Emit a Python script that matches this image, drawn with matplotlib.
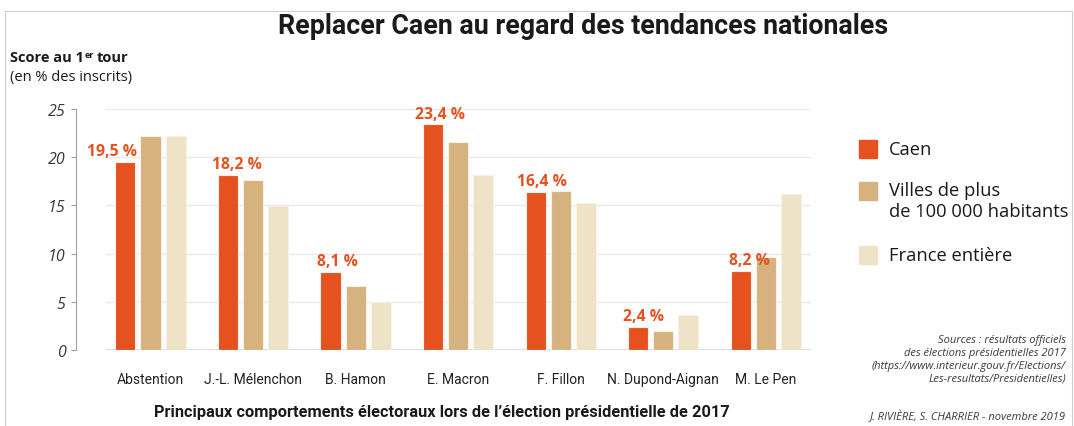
import numpy as np
import matplotlib
matplotlib.use("Agg")
from matplotlib import pyplot as plt
from matplotlib.lines import Line2D
from matplotlib.patches import Rectangle

categories = ["Abstention", "J.-L. Mélenchon", "B. Hamon", "E. Macron",
              "F. Fillon", "N. Dupond-Aignan", "M. Le Pen"]
caen = [19.5, 18.2, 8.1, 23.4, 16.4, 2.4, 8.2]
villes = [22.2, 17.6, 6.6, 21.6, 16.5, 2.0, 9.6]
france = [22.2, 14.9, 5.0, 18.2, 15.3, 3.6, 16.2]
caen_labels = ["19,5 %", "18,2 %", "8,1 %", "23,4 %", "16,4 %", "2,4 %", "8,2 %"]
series_names = ["Caen", "Villes de plus\nde 100 000 habitants", "France entière"]
yticks = [0, 5, 10, 15, 20, 25]

c_caen = "#E5521F"
c_villes = "#D5B27E"
c_france = "#EEE3C6"
colors = [c_caen, c_villes, c_france]

narrow = ["Roboto", "DejaVu Sans"]
sans = ["Open Sans", "DejaVu Sans"]

W, H = 1074, 427
fig = plt.figure(figsize=(W / 100, H / 100), dpi=100)

# axes placed in pixel terms of the reference
ax_l, ax_r, ax_top, ax_bot = 106, 811, 110, 351
ax = fig.add_axes([ax_l / W, 1 - ax_bot / H, (ax_r - ax_l) / W, (ax_bot - ax_top) / H])

x = np.arange(len(categories))
bw = 0.196
step = 0.245
for i, (vals, col) in enumerate(zip([caen, villes, france], colors)):
    ax.bar(x + (i - 1) * step, vals, width=bw, color=col,
           edgecolor="#FBEFE6", linewidth=0.8, zorder=3)

# value labels over the Caen bars (horizontal nudge in pixels, as in the original)
label_dx = [-13, 9, 7, 6.5, 6, 5, 9]
for xi, v, lab, dx in zip(x, caen, caen_labels, label_dx):
    ax.annotate(lab, xy=(xi - step, v), xytext=(dx * 0.72, 4.8), textcoords="offset points",
                ha="center", va="baseline", color=c_caen, fontsize=11.3,
                fontweight="bold", family=sans)

ax.set_xlim(-0.434, 6.44)
ax.set_ylim(0, 25)

for gy in yticks[1:]:
    ax.axhline(gy, color="#E9E9E9", linewidth=1, zorder=1)
ax.axhline(0, color="#DDDDDD", linewidth=2.2, zorder=2)

for s in ["top", "right", "bottom"]:
    ax.spines[s].set_visible(False)
ax.spines["left"].set_position(("outward", 21.6))
ax.spines["left"].set_bounds(0, 25)
ax.spines["left"].set_color("#A0A0A0")
ax.spines["left"].set_linewidth(0.8)
ax.set_yticks(yticks)
ax.set_yticklabels([str(t) for t in yticks], fontstyle="italic", family=sans,
                   fontsize=11.5, color="#3A3A3A")
ax.tick_params(axis="y", direction="out", length=3.6, width=0.8, color="#A0A0A0", pad=4)
ax.set_xticks(x)
ax.set_xticklabels(categories, family=narrow, fontsize=10, color="#222222")
ax.tick_params(axis="x", length=0, pad=16)

# frame lines
fig.add_artist(Line2D([4.5 / W, 4.5 / W], [0, 1 - 12 / H], color="#CFCFCF", lw=0.8))
fig.add_artist(Line2D([4.5 / W, 1071.5 / W], [1 - 12 / H, 1 - 12 / H], color="#CFCFCF", lw=0.8))
fig.add_artist(Line2D([1071.5 / W, 1071.5 / W], [0, 1 - 12 / H], color="#CFCFCF", lw=0.8))

fig.text(583 / W, 1 - 26 / H, "Replacer Caen au regard des tendances nationales",
         ha="center", va="center", fontsize=19.3, fontweight="bold", family=narrow,
         color="#1A1A1A")

# "Score au 1er tour" with superscript, placed piece by piece
renderer = fig.canvas.get_renderer()
t1 = fig.text(10 / W, 1 - 62 / H, "Score au 1", ha="left", va="baseline",
              fontsize=10.5, fontweight="bold", family=sans, color="#1A1A1A")
bb1 = t1.get_window_extent(renderer)
t2 = fig.text((bb1.x1 + 1) / W, 1 - 57.5 / H, "er", ha="left", va="baseline",
              fontsize=6.5, fontweight="bold", family=sans, color="#1A1A1A")
bb2 = t2.get_window_extent(renderer)
fig.text((bb2.x1 + 2) / W, 1 - 62 / H, "tour", ha="left", va="baseline",
         fontsize=10.5, fontweight="bold", family=sans, color="#1A1A1A")
fig.text(10 / W, 1 - 81 / H, "(en % des inscrits)", ha="left", va="baseline",
         fontsize=10.5, family=sans, color="#1A1A1A")

# legend
leg_y = [150, 191.5, 256]
for name, col, ly in zip(series_names, colors, leg_y):
    fig.add_artist(Rectangle((859 / W, 1 - (ly + 9) / H), 18 / W, 18 / H,
                             transform=fig.transFigure, color=col))
    if "\n" in name:
        fig.text(889 / W, 1 - (ly - 9) / H, name, ha="left", va="top", fontsize=13.2,
                 family=sans, color="#1A1A1A", linespacing=1.2)
    else:
        fig.text(889 / W, 1 - ly / H, name, ha="left", va="center", fontsize=13.2,
                 family=sans, color="#1A1A1A")

fig.text(1066 / W, 1 - 335 / H,
         "Sources : résultats officiels\ndes élections présidentielles 2017\n"
         "(https://www.interieur.gouv.fr/Elections/\nLes-resultats/Presidentielles)",
         ha="right", va="top", fontsize=8, fontstyle="italic", family=sans,
         color="#3A3A3A", linespacing=1.25)
fig.text(1066 / W, 1 - 417 / H, "J. RIVIÈRE, S. CHARRIER - novembre 2019",
         ha="right", va="center", fontsize=8, fontstyle="italic", family=sans,
         color="#3A3A3A")

fig.text(442 / W, 1 - 413 / H,
         "Principaux comportements électoraux lors de l\u2019élection présidentielle de 2017",
         ha="center", va="center", fontsize=11.8, fontweight="bold", family=narrow,
         color="#1A1A1A")

fig.savefig("out.png", dpi=100, facecolor="white")
